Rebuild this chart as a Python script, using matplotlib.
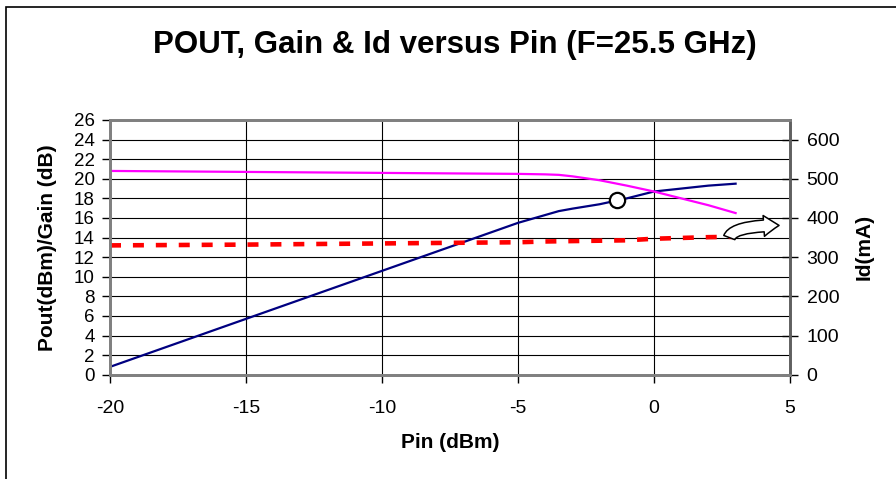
import matplotlib
matplotlib.use("Agg")
import matplotlib.pyplot as plt
from matplotlib.patches import Rectangle, FancyArrowPatch

plt.rcParams['font.family'] = ['Liberation Sans', 'DejaVu Sans']
plt.rcParams['axes.unicode_minus'] = False

# data
pin = [-20, -15, -10, -5, -4, -3.5, -3, -2, -1, 0, 1, 2, 3]
pout = [0.8, 5.7, 10.6, 15.5, 16.3, 16.7, 16.95, 17.4, 18.0, 18.7, 19.0, 19.3, 19.5]
gain = [20.8, 20.7, 20.6, 20.5, 20.45, 20.4, 20.25, 19.85, 19.3, 18.7, 18.0, 17.3, 16.5]
pin_id = [-20, -15, -10, -5, -4, -3, -2, -1, 0, 1, 2, 3]
id_ma = [330, 332, 335, 338, 340, 341, 342, 343, 347, 349, 351, 352]
p1db_pin = -1.36
p1db_pout = 17.8

xticks = [-20, -15, -10, -5, 0, 5]
left_ticks = list(range(0, 27, 2))
right_ticks = list(range(0, 601, 100))

W, H = 896, 479
fig = plt.figure(figsize=(W / 100, H / 100), dpi=100)
ax = fig.add_axes([110 / W, 104.3 / H, 680 / W, 254.7 / H])
ax2 = ax.twinx()

ax.plot(pin, pout, color='#000080', lw=1.6)
ax.plot(pin, gain, color='#ff00ff', lw=1.6)
ax.plot([p1db_pin], [p1db_pout], 'o', ms=11, mfc='white', mec='black', mew=1.6)
ax2.plot(pin_id, id_ma, color='#ff0000', lw=3.3, dashes=(2.4, 2.6))

# arrow pointing to the Id axis
arr = FancyArrowPatch((2.75, 343), (4.7, 381),
                      connectionstyle='angle3,angleA=90,angleB=0',
                      arrowstyle='simple,head_length=1.1,head_width=1.5,tail_width=0.85',
                      mutation_scale=10, fc='white', ec='black', lw=1.1, zorder=5)
ax2.add_patch(arr)

ax.set_xlim(-20, 5)
ax.set_ylim(0, 26)
ax2.set_ylim(0, 650)
ax.set_xticks(xticks)
ax.set_yticks(left_ticks)
ax2.set_yticks(right_ticks)

ax.grid(True, color='black', lw=0.8)
ax.set_axisbelow(True)

for a in (ax, ax2):
    for s in a.spines.values():
        s.set_color('#808080')
        s.set_linewidth(2)
ax2.spines['right'].set_color('#606060')

ax.tick_params(axis='x', direction='out', length=6, width=1, pad=12, labelsize=14)
ax.tick_params(axis='y', direction='out', length=6, width=1, pad=5, labelsize=13.5)
ax2.tick_params(axis='y', direction='inout', length=12, width=1, pad=6, labelsize=14)

ax.set_xlabel('Pin (dBm)', fontsize=15, fontweight='bold', va='center')
ax.xaxis.set_label_coords(0.5, -0.268)
ax.set_ylabel('Pout(dBm)/Gain (dB)', fontsize=15, fontweight='bold', va='center')
ax.yaxis.set_label_coords(-0.0926, 0.5)
ax2.set_ylabel('Id(mA)', fontsize=15, fontweight='bold', va='center')
ax2.yaxis.set_label_coords(1.109, 0.5)

fig.text(455 / W, 1 - 45 / H, 'POUT, Gain & Id versus Pin (F=25.5 GHz)',
         fontsize=22.5, fontweight='bold', ha='center', va='center')

fig.add_artist(Rectangle((6 / W, -0.1), 1.2, 1.1 - 7 / H, transform=fig.transFigure,
                         fill=False, ec='black', lw=1.2))

fig.savefig('out.png', dpi=100)
